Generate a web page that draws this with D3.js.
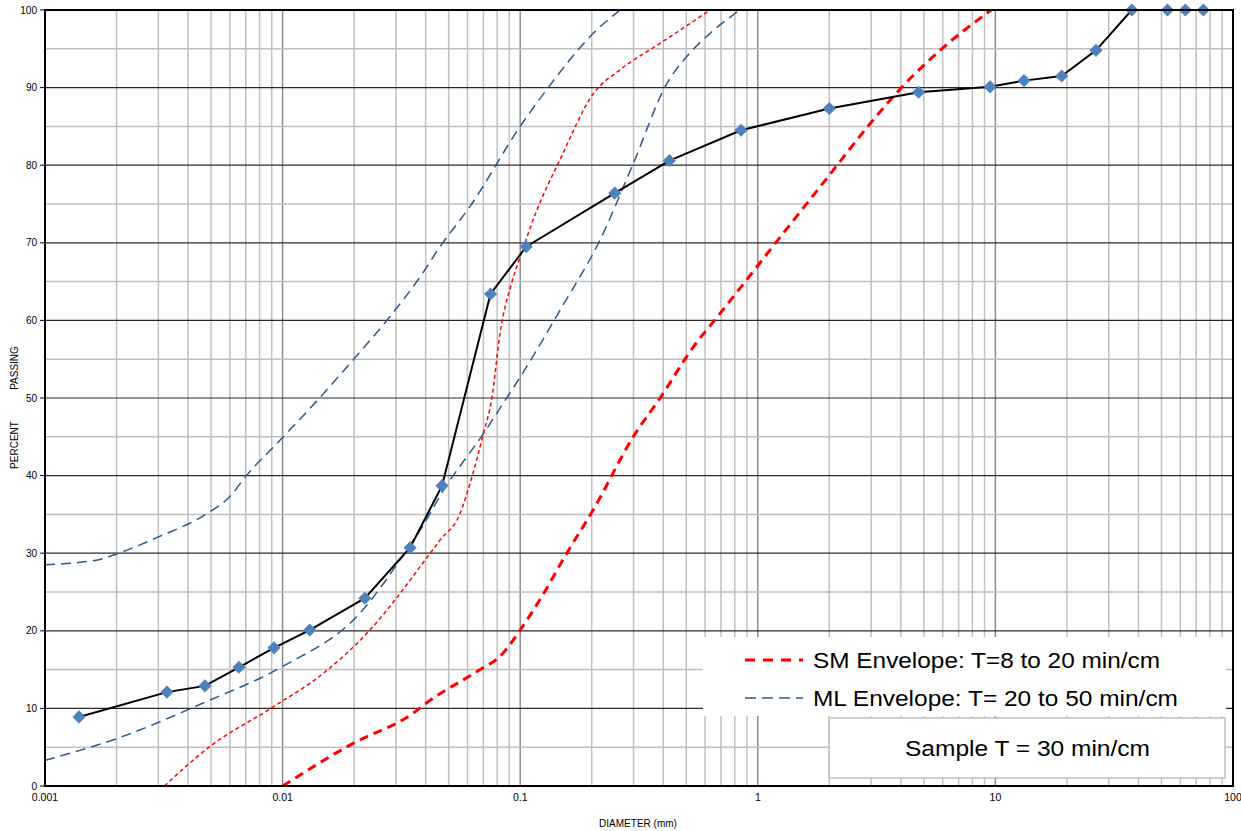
<!DOCTYPE html>
<html>
<head>
<meta charset="utf-8">
<script src="https://cdn.jsdelivr.net/npm/d3@7"></script>
<style>
  body { margin: 0; background: #fff; }
  svg { font-family: "Liberation Sans", Arial, sans-serif; }
</style>
</head>
<body>
<svg width="1241" height="831"></svg>
<script>
// grain size distribution (percent passing vs diameter, mm)
var sampleD   = [0.00139, 0.00326, 0.00471, 0.00655, 0.0092, 0.013, 0.0222, 0.0344, 0.0469,
                 0.075, 0.106, 0.25, 0.425, 0.85, 2, 4.75, 9.5, 13.2, 19, 26.5, 37.5, 53, 63, 75];
var samplePct = [8.9, 12.1, 12.9, 15.3, 17.8, 20.1, 24.2, 30.7, 38.7,
                 63.4, 69.5, 76.4, 80.6, 84.5, 87.3, 89.4, 90.1, 90.9, 91.5, 94.8, 100, 100, 100, 100];

// SM envelope, fine side (thin dashes) and coarse side (thick dashes)
var smFineD   = [0.00318, 0.00495, 0.00914, 0.0148, 0.0233, 0.0312, 0.038, 0.046, 0.0558, 0.0615,
                 0.07, 0.076, 0.0822, 0.092, 0.1, 0.1175, 0.147, 0.203, 0.263, 0.388, 0.63];
var smFinePct = [0, 5.1, 10.2, 14.5, 20.1, 24.8, 28.3, 31.7, 35.1, 39,
                 45.4, 50, 58.3, 64.8, 68.2, 74.2, 80.7, 89.2, 92.3, 95.7, 100];
var smCoarseD   = [0.01, 0.0198, 0.0355, 0.0403, 0.0678, 0.0822, 0.1, 0.121, 0.157, 0.203, 0.299,
                   0.388, 0.536, 0.694, 0.896, 1.24, 2.01, 2.96, 3.97, 5.85, 9.6];
var smCoarsePct = [0, 5.5, 9.4, 10.7, 15, 16.7, 20.1, 24, 30, 35.6, 45,
                   50, 56.6, 60.9, 65.2, 70.7, 78.8, 85.3, 89.8, 94.8, 100];

// ML envelope, fine side and coarse side
var mlFineD   = [0.001, 0.0017, 0.002, 0.003, 0.0048, 0.006, 0.007, 0.01, 0.0143, 0.0198,
                 0.0283, 0.0379, 0.046, 0.0615, 0.1, 0.129, 0.203, 0.263];
var mlFinePct = [28.5, 29.2, 29.9, 32.1, 35.1, 37.3, 39.9, 44.9, 50, 54.9,
                 60.5, 65.6, 69.5, 74.7, 85, 89.7, 97, 100];
var mlCoarseD   = [0.001, 0.002, 0.0048, 0.01, 0.0212, 0.0333, 0.038, 0.0475, 0.07, 0.0877,
                   0.1, 0.147, 0.217, 0.299, 0.414, 0.502, 0.63, 0.84];
var mlCoarsePct = [3.3, 6.1, 10.9, 15.4, 22.3, 30.4, 33, 38.1, 45.4, 50,
                   52.7, 61.3, 70.4, 80.2, 90.5, 94, 97, 100];

var yTickLabels = [0, 10, 20, 30, 40, 50, 60, 70, 80, 90, 100];
var xTickLabels = ["0.001", "0.01", "0.1", "1", "10", "100"];

var legendNames = ["SM Envelope: T=8 to 20 min/cm", "ML Envelope: T= 20 to 50 min/cm"];
var sampleNote = "Sample T = 30 min/cm";

var svg = d3.select("svg");
var pLeft = 45, pRight = 1233, pTop = 10, pBottom = 786;

var x = d3.scaleLog().domain([0.001, 100]).range([pLeft, pRight]);
var y = d3.scaleLinear().domain([0, 100]).range([pBottom, pTop]);

function isDecade(v) {
  var l = Math.log10(v);
  return Math.abs(l - Math.round(l)) < 1e-9;
}

// vertical grid
svg.append("g").selectAll("line")
  .data(x.ticks().filter(function(v) { return v > 0.001 && v < 100; }))
  .enter().append("line")
    .attr("x1", function(d) { return x(d); })
    .attr("x2", function(d) { return x(d); })
    .attr("y1", pTop).attr("y2", pBottom)
    .style("stroke", function(d) { return isDecade(d) ? "#8c8c8c" : "#c0c0c0"; })
    .style("stroke-width", 1.5);

// horizontal grid
svg.append("g").selectAll("line")
  .data(d3.range(5, 100, 5))
  .enter().append("line")
    .attr("x1", pLeft).attr("x2", pRight)
    .attr("y1", function(d) { return y(d); })
    .attr("y2", function(d) { return y(d); })
    .style("stroke", function(d) { return d % 10 === 0 ? "#2a2a2a" : "#c0c0c0"; })
    .style("stroke-width", function(d) { return d % 10 === 0 ? 1.2 : 1.5; });

svg.append("clipPath").attr("id", "plot")
  .append("rect").attr("x", pLeft).attr("y", pTop)
  .attr("width", pRight - pLeft).attr("height", pBottom - pTop);

function pts(ds, ps) { return ds.map(function(d, i) { return [d, ps[i]]; }); }

var smooth = d3.line()
  .x(function(d) { return x(d[0]); })
  .y(function(d) { return y(d[1]); })
  .curve(d3.curveMonotoneX);

var curves = [
  {data: pts(mlFineD, mlFinePct), color: "#2c5a8e", width: 1.5, dash: "10,6"},
  {data: pts(mlCoarseD, mlCoarsePct), color: "#2c5a8e", width: 1.5, dash: "10,6"},
  {data: pts(smFineD, smFinePct), color: "#ff0000", width: 1.5, dash: "4,3"},
  {data: pts(smCoarseD, smCoarsePct), color: "#ff0000", width: 3, dash: "9,6"}
];

var plotG = svg.append("g").attr("clip-path", "url(#plot)");
plotG.selectAll("path.env").data(curves).enter().append("path")
  .attr("class", "env")
  .attr("d", function(d) { return smooth(d.data); })
  .style("fill", "none")
  .style("stroke", function(d) { return d.color; })
  .style("stroke-width", function(d) { return d.width; })
  .style("stroke-dasharray", function(d) { return d.dash; });

// sample line
var sample = pts(sampleD, samplePct);
var straight = d3.line()
  .x(function(d) { return x(d[0]); })
  .y(function(d) { return y(d[1]); });

svg.append("path")
  .attr("d", straight(sample))
  .style("fill", "none")
  .style("stroke", "#000")
  .style("stroke-width", 2);

svg.append("g").selectAll("path")
  .data(sample).enter().append("path")
    .attr("d", d3.symbol().type(d3.symbolDiamond2).size(110))
    .attr("transform", function(d) { return "translate(" + x(d[0]) + "," + y(d[1]) + ")"; })
    .style("fill", "#4f81bd");

// frame
svg.append("rect")
  .attr("x", pLeft).attr("y", pTop)
  .attr("width", pRight - pLeft).attr("height", pBottom - pTop)
  .style("fill", "none").style("stroke", "#000").style("stroke-width", 2);

// y axis ticks + labels
var yg = svg.append("g");
yg.selectAll("line").data(yTickLabels).enter().append("line")
  .attr("x1", pLeft - 5).attr("x2", pLeft)
  .attr("y1", function(d) { return y(d); }).attr("y2", function(d) { return y(d); })
  .style("stroke", "#000");
yg.selectAll("text").data(yTickLabels).enter().append("text")
  .attr("x", pLeft - 8).attr("y", function(d) { return y(d) + 3.5; })
  .attr("text-anchor", "end")
  .style("font-size", "10px")
  .text(function(d) { return d; });

// x labels
svg.append("g").selectAll("text").data(xTickLabels).enter().append("text")
  .attr("x", function(d) { return x(+d); })
  .attr("y", pBottom + 15)
  .attr("text-anchor", "middle")
  .style("font-size", "10.5px")
  .text(function(d) { return d; });

svg.append("text")
  .attr("x", 638).attr("y", 827)
  .attr("text-anchor", "middle")
  .style("font-size", "10px")
  .text("DIAMETER (mm)");

svg.append("text")
  .attr("transform", "translate(18,368) rotate(-90)")
  .attr("text-anchor", "middle")
  .style("font-size", "10px")
  .text("PASSING");
svg.append("text")
  .attr("transform", "translate(18,445) rotate(-90)")
  .attr("text-anchor", "middle")
  .style("font-size", "10px")
  .text("PERCENT");

// legend
var lg = svg.append("g");
lg.append("rect")
  .attr("x", 703).attr("y", 637).attr("width", 523).attr("height", 79)
  .style("fill", "#fff");
var legendStyles = [curves[3], curves[0]];
var legendWidths = [347, 365];
legendNames.forEach(function(name, i) {
  var ly = 660 + i * 38;
  lg.append("line")
    .attr("x1", 745).attr("x2", 803).attr("y1", ly).attr("y2", ly)
    .style("stroke", legendStyles[i].color)
    .style("stroke-width", i === 0 ? 3 : 1.5)
    .style("stroke-dasharray", i === 0 ? "10,8" : "11,6");
  lg.append("text")
    .attr("x", 813).attr("y", ly + 8)
    .attr("textLength", legendWidths[i])
    .attr("lengthAdjust", "spacingAndGlyphs")
    .style("font-size", "22px")
    .text(name);
});

svg.append("rect")
  .attr("x", 829).attr("y", 718).attr("width", 396).attr("height", 60)
  .style("fill", "#fff").style("stroke", "#bfbfbf").style("stroke-width", 1.5);
svg.append("text")
  .attr("x", 905).attr("y", 756)
  .attr("textLength", 245)
  .attr("lengthAdjust", "spacingAndGlyphs")
  .style("font-size", "22px")
  .text(sampleNote);
</script>
</body>
</html>
